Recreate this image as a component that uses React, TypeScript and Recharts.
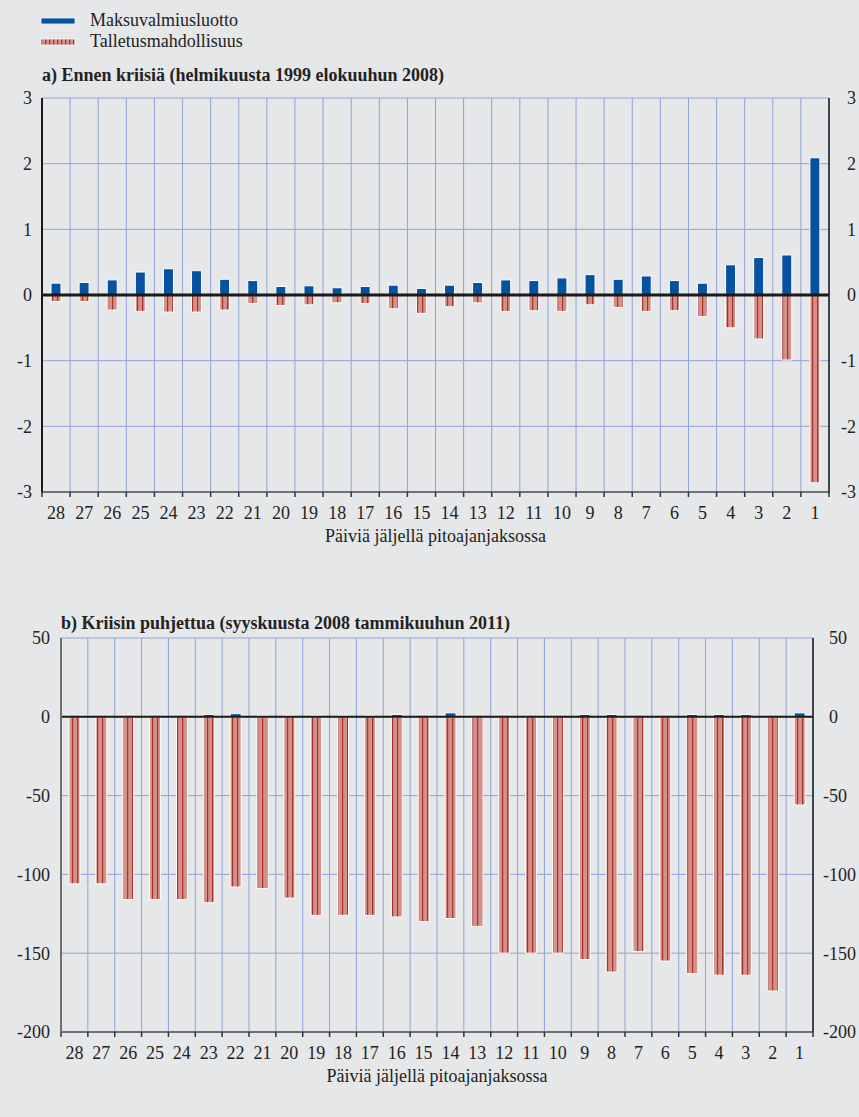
import { Bar, BarChart, CartesianGrid, Legend, ReferenceLine, XAxis, YAxis } from "recharts";

// Päiviä jäljellä pitoajanjaksossa, vasemmalta oikealle
const days = [28, 27, 26, 25, 24, 23, 22, 21, 20, 19, 18, 17, 16, 15, 14, 13, 12, 11, 10, 9, 8, 7, 6, 5, 4, 3, 2, 1];

// a) Ennen kriisiä
const creditBefore = [
  0.18, 0.19, 0.23, 0.35, 0.4, 0.37, 0.24, 0.22, 0.13, 0.14, 0.11, 0.13, 0.15, 0.1,
  0.15, 0.19, 0.23, 0.22, 0.26, 0.31, 0.24, 0.29, 0.22, 0.18, 0.46, 0.57, 0.61, 2.09
];
const depositBefore = [
  -0.1, -0.1, -0.23, -0.25, -0.26, -0.26, -0.23, -0.13, -0.16, -0.15, -0.12, -0.13, -0.21, -0.28,
  -0.18, -0.12, -0.25, -0.24, -0.25, -0.15, -0.19, -0.25, -0.24, -0.33, -0.5, -0.67, -0.99, -2.86
];

// b) Kriisin puhjettua
const creditAfter = [
  1, 1, 1, 1, 1, 1.5, 2, 0.8, 0.8, 0.8, 0.8, 0.8, 1.5, 1,
  2.5, 1, 1, 1, 1, 1.5, 1.5, 1, 1, 1.5, 1.5, 1.5, 1, 2.5
];
const depositAfter = [
  -106, -106, -116, -116, -116, -118, -108, -109, -115, -126, -126, -126, -127, -130,
  -128, -133, -150, -150, -150, -154, -162, -149, -155, -163, -164, -164, -174, -56
];

const ticksBefore = [-3, -2, -1, 0, 1, 2, 3];
const ticksAfter = [-200, -150, -100, -50, 0, 50];

const names = { credit: "Maksuvalmiusluotto", deposit: "Talletusmahdollisuus" };
const blue = "#0652a0";
const salmon = "#d4918a";
const stripe = "#a8332b";
const grid = "#8fa2d8";
const ink = "#222";
const font = "'Liberation Serif', 'Times New Roman', serif";

const rows = (credit: number[], deposit: number[]) =>
  days.map((day, i) => ({ day: String(day), credit: credit[i], deposit: deposit[i] }));

// category label plus bracket ticks on the band edges
function DayTick({ x, y, payload, index, width, visibleTicksCount }: any) {
  const band = width / visibleTicksCount;
  const left = x - band / 2;
  return (
    <g>
      <line x1={left} x2={left} y1={y} y2={y + 5} stroke="#333" strokeWidth={1.5} />
      {index === visibleTicksCount - 1 && (
        <line x1={x + band / 2} x2={x + band / 2} y1={y} y2={y + 5} stroke="#333" strokeWidth={1.5} />
      )}
      <text x={x} y={y + 14} dy="0.71em" textAnchor="middle" fontSize={18} fill={ink} fontFamily={font}>
        {payload.value}
      </text>
    </g>
  );
}

function RightTick({ x, y, payload, gap }: any) {
  const v = Number(payload.value);
  return (
    <text x={x + gap - (v < 0 ? 6 : 0)} y={y} dy="0.355em" textAnchor="start" fontSize={18} fill={ink} fontFamily={font}>
      {v}
    </text>
  );
}

function LegendBox({ payload }: any) {
  return (
    <div style={{ fontFamily: font, fontSize: 18, color: ink, lineHeight: "21px" }}>
      {(payload ?? []).map((entry: any) => (
        <div key={entry.value} style={{ display: "flex", alignItems: "center" }}>
          <svg width={36} height={10} style={{ marginRight: 14 }}>
            <defs>
              <pattern id="legendStripe" patternUnits="userSpaceOnUse" width={4} height={10}>
                <rect width={4} height={10} fill={salmon} />
                <rect x={1} width={1.2} height={10} fill={stripe} />
              </pattern>
            </defs>
            <rect
              x={1}
              y={2}
              width={34}
              height={6}
              fill={entry.dataKey === "deposit" ? "url(#legendStripe)" : blue}
              stroke="#f4f4f4"
              strokeWidth={0.8}
            />
          </svg>
          <span>{entry.value}</span>
        </div>
      ))}
    </div>
  );
}

function Panel({
  id,
  data,
  ticks,
  height,
  top,
  bottom,
  leftWidth,
  rightWidth,
  leftGap,
  rightGap,
  barSize,
  zeroWidth,
  leftAxisColor,
  withLegend
}: {
  id: string;
  data: { day: string; credit: number; deposit: number }[];
  ticks: number[];
  height: number;
  top: number;
  bottom: number;
  leftWidth: number;
  rightWidth: number;
  leftGap: number;
  rightGap: number;
  barSize: number;
  zeroWidth: number;
  leftAxisColor: string;
  withLegend?: boolean;
}) {
  const domain = [ticks[0], ticks[ticks.length - 1]];
  return (
    <BarChart
      width={859}
      height={height}
      data={data}
      stackOffset="sign"
      margin={{ top, right: 0, bottom, left: 0 }}
      style={{ fontFamily: font }}
    >
      <defs>
        <pattern id={`stripe-${id}`} patternUnits="userSpaceOnUse" width={5} height={10}>
          <rect width={5} height={10} fill={salmon} />
          <rect x={2} width={1.2} height={10} fill={stripe} />
        </pattern>
      </defs>
      <CartesianGrid
        yAxisId="left"
        stroke={grid}
        strokeWidth={1}
        verticalCoordinatesGenerator={({ offset }: any) =>
          days.concat(0).map((_, i) => offset.left + (i * offset.width) / days.length)
        }
      />
      <XAxis
        dataKey="day"
        height={50}
        interval={0}
        axisLine={{ stroke: "#555", strokeWidth: 1.5 }}
        tickLine={false}
        tickSize={0}
        tickMargin={0}
        tick={<DayTick />}
        label={{
          value: "Päiviä jäljellä pitoajanjaksossa",
          position: "insideBottom",
          offset: 0,
          fontSize: 18,
          fill: ink,
          fontFamily: font
        }}
      />
      <YAxis
        yAxisId="left"
        width={leftWidth}
        domain={domain}
        ticks={ticks}
        interval={0}
        axisLine={{ stroke: leftAxisColor, strokeWidth: 2 }}
        tickLine={false}
        tickSize={0}
        tickMargin={leftGap}
        tick={{ fontSize: 18, fill: ink, fontFamily: font }}
      />
      <YAxis
        yAxisId="right"
        orientation="right"
        width={rightWidth}
        domain={domain}
        ticks={ticks}
        interval={0}
        allowDataOverflow
        axisLine={{ stroke: "#1a1a1a", strokeWidth: 1.5 }}
        tickLine={false}
        tickSize={0}
        tickMargin={0}
        tick={(props: any) => <RightTick {...props} gap={rightGap} />}
      />
      {withLegend && (
        <Legend
          layout="vertical"
          align="center"
          verticalAlign="middle"
          wrapperStyle={{ top: 10, left: 40, width: "auto" }}
          content={<LegendBox />}
        />
      )}
      <Bar
        yAxisId="left"
        dataKey="credit"
        name={names.credit}
        stackId="s"
        fill={blue}
        stroke="#ffffff"
        strokeWidth={1}
        barSize={barSize}
        isAnimationActive={false}
      />
      <Bar
        yAxisId="left"
        dataKey="deposit"
        name={names.deposit}
        stackId="s"
        fill={`url(#stripe-${id})`}
        stroke="#ffffff"
        strokeWidth={1}
        barSize={barSize}
        isAnimationActive={false}
      />
      <ReferenceLine yAxisId="left" y={0} stroke="#1a1a1a" strokeWidth={zeroWidth} />
    </BarChart>
  );
}

const titleStyle = {
  position: "absolute" as const,
  fontFamily: font,
  fontWeight: 700,
  fontSize: 18,
  lineHeight: "21px",
  color: ink,
  whiteSpace: "nowrap" as const
};

export default function App() {
  return (
    <div style={{ position: "absolute", left: 0, top: 0, width: 859, height: 1117, background: "#e6e7e9", overflow: "hidden" }}>
      <div style={{ position: "absolute", left: 0, top: 0 }}>
        <Panel
          id="a"
          data={rows(creditBefore, depositBefore)}
          ticks={ticksBefore}
          height={560}
          top={98}
          bottom={18}
          leftWidth={42}
          rightWidth={30}
          leftGap={10}
          rightGap={18}
          barSize={10}
          zeroWidth={3}
          leftAxisColor="#1a1a1a"
          withLegend
        />
      </div>
      <div style={{ ...titleStyle, left: 42, top: 65 }}>a) Ennen kriisiä (helmikuusta 1999 elokuuhun 2008)</div>
      <div style={{ position: "absolute", left: 0, top: 580 }}>
        <Panel
          id="b"
          data={rows(creditAfter, depositAfter)}
          ticks={ticksAfter}
          height={540}
          top={58}
          bottom={38}
          leftWidth={61}
          rightWidth={46}
          leftGap={11}
          rightGap={16}
          barSize={11}
          zeroWidth={2}
          leftAxisColor="#6f6f6f"
        />
      </div>
      <div style={{ ...titleStyle, left: 61, top: 613 }}>b) Kriisin puhjettua (syyskuusta 2008 tammikuuhun 2011)</div>
    </div>
  );
}
